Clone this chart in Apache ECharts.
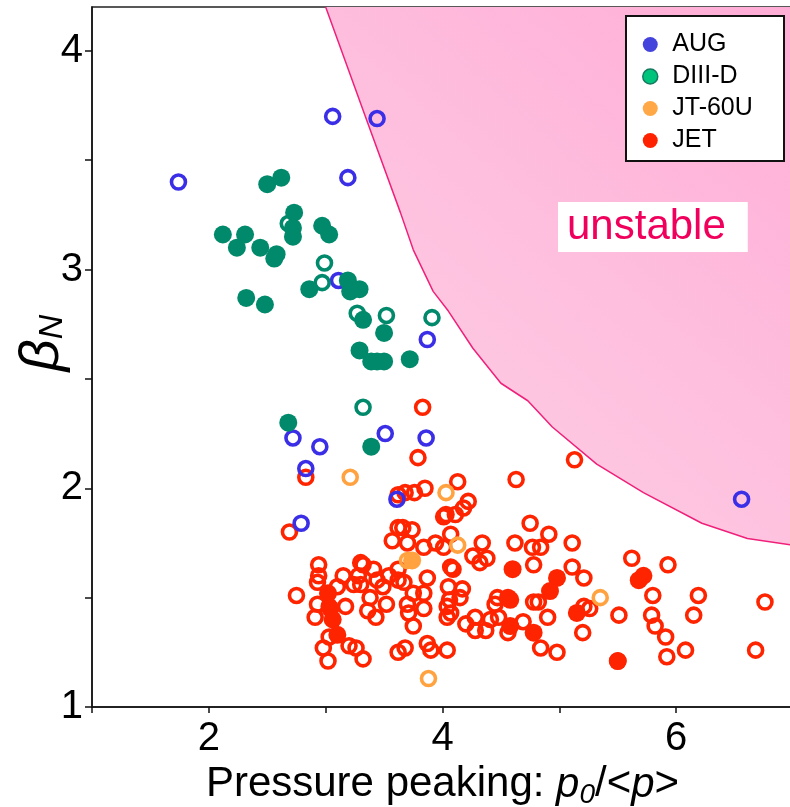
<!DOCTYPE html>
<html>
<head>
<meta charset="utf-8">
<script src="https://cdn.jsdelivr.net/npm/echarts@6/dist/echarts.min.js"></script>
<style>
  html, body { margin: 0; padding: 0; background: #fff; }
  #chart { width: 790px; height: 807px; }
</style>
</head>
<body>
<div id="chart"></div>
<script>
// Normalised beta versus pressure peaking for four tokamaks

const xTickLabels = [2, 4, 6];
const yTickLabels = [1, 2, 3, 4];

// Ideal-MHD stability boundary (unstable above/right of it)
const boundaryX = [3.00, 3.17, 3.36, 3.64, 3.75, 3.92, 4.05, 4.26, 4.50, 4.73, 4.94, 5.32, 5.72, 6.22, 6.61, 7.00];
const boundaryY = [4.20, 3.95, 3.67, 3.26, 3.09, 2.90, 2.81, 2.64, 2.48, 2.40, 2.28, 2.11, 1.98, 1.84, 1.77, 1.74];

const augOpen = [
  [1.74, 3.40], [3.06, 3.70], [3.44, 3.69], [3.19, 3.42], [3.11, 2.95], [3.87, 2.68],
  [2.72, 2.23], [2.95, 2.19], [2.83, 2.09], [3.51, 2.25], [3.86, 2.23], [3.61, 1.95],
  [2.79, 1.84], [6.56, 1.95]
];

const d3dFilled = [
  [2.50, 3.39], [2.62, 3.42], [2.73, 3.26], [2.72, 3.19], [2.72, 3.15], [2.12, 3.16],
  [2.31, 3.16], [2.24, 3.10], [2.44, 3.10], [2.56, 3.05], [2.58, 3.07], [2.97, 3.20],
  [3.03, 3.16], [2.32, 2.87], [2.48, 2.84], [2.86, 2.91], [3.19, 2.95], [3.21, 2.90],
  [3.29, 2.91], [3.32, 2.77], [3.50, 2.71], [3.29, 2.63], [3.39, 2.58], [3.44, 2.58],
  [3.50, 2.58], [3.72, 2.59], [2.68, 2.30], [3.39, 2.19]
];
const d3dOpen = [
  [2.68, 3.21], [2.99, 3.03], [2.97, 2.94], [3.27, 2.80], [3.52, 2.79], [3.91, 2.78], [3.32, 2.37]
];

const jt60uOpen = [[3.21, 2.05], [4.03, 1.98], [4.13, 1.74], [3.70, 1.67], [5.35, 1.50], [3.88, 1.13]];
const jt60uFilled = [[3.74, 1.67]];

const jetOpen = [
  [3.83, 2.37], [3.79, 2.14], [4.13, 2.03], [4.63, 2.04], [5.13, 2.13], [2.83, 2.05], [2.69, 1.80],
  [3.62, 1.97], [3.68, 1.98], [3.76, 1.98], [3.85, 2.00], [4.01, 1.87], [4.22, 1.94], [4.18, 1.91],
  [4.11, 1.88], [4.03, 1.88], [4.75, 1.84], [4.91, 1.79], [5.11, 1.75], [4.62, 1.75], [4.77, 1.73],
  [4.84, 1.73], [4.34, 1.75], [4.26, 1.69], [4.38, 1.68], [4.32, 1.66], [4.07, 1.79], [4.01, 1.73],
  [4.78, 1.65], [5.11, 1.64], [5.21, 1.59], [5.62, 1.68], [5.93, 1.65], [5.80, 1.51], [6.19, 1.51],
  [6.76, 1.48], [5.51, 1.42], [5.79, 1.42], [6.15, 1.42], [5.82, 1.37], [5.91, 1.32], [6.08, 1.26],
  [5.92, 1.23], [6.68, 1.26], [5.50, 1.21], [5.26, 1.45], [5.21, 1.46], [5.20, 1.34], [4.78, 1.48],
  [4.82, 1.48], [4.90, 1.41], [4.56, 1.34], [4.69, 1.39], [4.84, 1.27], [4.98, 1.25], [4.47, 1.50],
  [4.45, 1.47], [4.28, 1.41], [4.20, 1.38], [4.28, 1.35], [4.37, 1.35], [4.41, 1.40], [4.48, 1.41],
  [4.04, 1.26], [4.15, 1.50], [4.05, 1.55], [4.17, 1.54], [4.07, 1.64], [4.09, 1.63], [4.06, 1.49],
  [4.04, 1.46], [4.07, 1.43], [4.04, 1.41], [3.87, 1.59], [3.84, 1.52], [3.75, 1.52], [3.62, 1.63],
  [3.62, 1.58], [3.67, 1.57], [3.70, 1.47], [3.71, 1.43], [3.75, 1.37], [3.84, 1.45], [3.62, 1.25],
  [3.68, 1.27], [3.87, 1.29], [3.90, 1.26], [3.41, 1.63], [3.44, 1.58], [3.38, 1.50], [3.36, 1.44],
  [3.43, 1.41], [3.28, 1.60], [3.24, 1.56], [3.30, 1.56], [3.32, 1.65], [3.20, 1.28], [3.26, 1.27],
  [3.32, 1.22], [2.98, 1.27], [3.02, 1.21], [2.94, 1.65], [2.94, 1.60], [2.93, 1.57], [3.10, 1.55],
  [2.93, 1.47], [3.03, 1.46], [3.17, 1.46], [2.91, 1.41], [3.03, 1.32], [2.75, 1.51], [3.57, 1.76],
  [3.62, 1.82], [3.66, 1.82], [3.74, 1.81], [3.70, 1.75], [3.84, 1.73], [3.94, 1.75], [3.30, 1.66],
  [3.49, 1.55], [3.54, 1.60], [3.15, 1.60], [3.52, 1.47]
];
const jetFilled = [
  [4.60, 1.63], [4.98, 1.59], [4.92, 1.53], [5.72, 1.60], [5.68, 1.58], [5.15, 1.43], [4.56, 1.50],
  [4.58, 1.49], [4.58, 1.37], [4.78, 1.34], [3.02, 1.52], [3.06, 1.40], [3.10, 1.33], [5.50, 1.21],
  [3.04, 1.45]
];

const FONT = '"Liberation Sans", Arial, Helvetica, sans-serif';
const C = {
  aug: '#3a2fe6',
  d3d: '#00896b',
  jt: '#ffa23f',
  jet: '#ff2400',
  edge: '#f0207a'
};

function openSeries(name, data, color) {
  return {
    name, type: 'scatter', data, symbol: 'circle', symbolSize: 14,
    itemStyle: { color: 'rgba(0,0,0,0)', borderColor: color, borderWidth: 3.6, opacity: 1 },
    emphasis: { disabled: true }, z: 3
  };
}
function filledSeries(name, data, color) {
  return {
    name, type: 'scatter', data, symbol: 'circle', symbolSize: 18,
    itemStyle: { color: color, opacity: 1 },
    emphasis: { disabled: true }, z: 3
  };
}

const boundary = boundaryX.map((x, i) => [x, boundaryY[i]]);

const chart = echarts.init(document.getElementById('chart'), null, { renderer: 'canvas' });

chart.setOption({
  animation: false,
  backgroundColor: '#fff',
  grid: {
    left: 92, top: 7, width: 701, height: 700,
    containLabel: false, outerBoundsMode: 'none',
    show: true, borderColor: '#222', borderWidth: 1.5, backgroundColor: 'transparent'
  },
  legend: {
    orient: 'vertical',
    left: 642, top: 32,
    padding: 0,
    itemGap: 7,
    itemWidth: 34, itemHeight: 15,
    z: 20,
    selectedMode: false,
    textStyle: { fontFamily: FONT, fontSize: 25, color: '#000', lineHeight: 25 },
    data: [
      { name: 'AUG', icon: 'circle', itemStyle: { color: '#4444dd', borderWidth: 0 } },
      { name: 'DIII-D', icon: 'circle', itemStyle: { color: '#00c47c', borderColor: '#167a60', borderWidth: 1.5 } },
      { name: 'JT-60U', icon: 'circle', itemStyle: { color: '#ffa845', borderWidth: 0 } },
      { name: 'JET', icon: 'circle', itemStyle: { color: '#ff2200', borderWidth: 0 } }
    ]
  },
  xAxis: {
    type: 'value', min: 1, max: 7, interval: 1,
    name: 'Pressure peaking: {i|p}{sub|0}/<{i|p}>',
    nameLocation: 'middle', nameGap: 52,
    nameTextStyle: {
      fontFamily: FONT, fontSize: 42, color: '#000',
      rich: {
        i: { fontFamily: FONT, fontSize: 42, fontStyle: 'italic', color: '#000' },
        sub: { fontFamily: FONT, fontSize: 28, fontStyle: 'italic', color: '#000', padding: [20, 0, 0, 0] }
      }
    },
    axisLine: { onZero: false, lineStyle: { color: '#111', width: 1.5 } },
    axisTick: { show: true, inside: false, length: 6, lineStyle: { color: '#111', width: 1.5 },
                customValues: [1, 2, 3, 4, 5, 6, 7] },
    axisLabel: {
      fontFamily: FONT, fontSize: 40, color: '#000', margin: 12,
      customValues: xTickLabels,
      formatter: v => String(v)
    },
    splitLine: { show: false }
  },
  yAxis: {
    type: 'value', min: 1, max: 4.2, interval: 0.5,
    axisLine: { onZero: false, lineStyle: { color: '#111', width: 1.5 } },
    axisTick: { show: true, inside: false, length: 7, lineStyle: { color: '#111', width: 1.5 },
                customValues: [1, 1.5, 2, 2.5, 3, 3.5, 4] },
    axisLabel: {
      fontFamily: FONT, fontSize: 40, color: '#000', margin: 9,
      customValues: yTickLabels,
      formatter: v => String(v)
    },
    splitLine: { show: false }
  },
  graphic: [
    // legend frame
    {
      type: 'rect', z: 10,
      shape: { x: 626, y: 16, width: 158, height: 145 },
      style: { fill: '#fff', stroke: '#111', lineWidth: 2 }
    },
    {
      type: 'text', z: 100,
      x: 42, y: 343, rotation: Math.PI / 2,
      style: {
        text: '{b|β}{n|N}',
        align: 'center', verticalAlign: 'middle',
        rich: {
          b: { fontFamily: FONT, fontSize: 56, fontStyle: 'italic', fill: '#000', lineHeight: 58 },
          n: { fontFamily: FONT, fontSize: 34, fontStyle: 'italic', fill: '#000', padding: [22, 0, 0, 0] }
        }
      }
    },
    {
      type: 'text', z: 100,
      left: 558, top: 202,
      style: {
        text: 'unstable',
        fontFamily: FONT, fontSize: 42, fill: '#f0005c',
        backgroundColor: '#fff',
        padding: [4, 22, 4, 9],
        lineHeight: 42
      }
    }
  ],
  series: [
    {
      name: 'boundary', type: 'line', data: boundary,
      symbol: 'none', smooth: false, clip: true, z: 1,
      lineStyle: { color: C.edge, width: 1.5 },
      areaStyle: {
        origin: 'end', opacity: 1,
        color: new echarts.graphic.LinearGradient(0, 1, 1, 0, [
          { offset: 0, color: '#fdd2e6' },
          { offset: 1, color: '#ffadd6' }
        ])
      },
      emphasis: { disabled: true }, silent: true
    },
    openSeries('JET', jetOpen, C.jet),
    filledSeries('JET', jetFilled, C.jet),
    openSeries('JT-60U', jt60uOpen, C.jt),
    filledSeries('JT-60U', jt60uFilled, C.jt),
    openSeries('AUG', augOpen, C.aug),
    openSeries('DIII-D', d3dOpen, C.d3d),
    filledSeries('DIII-D', d3dFilled, C.d3d)
  ]
});
</script>
</body>
</html>
